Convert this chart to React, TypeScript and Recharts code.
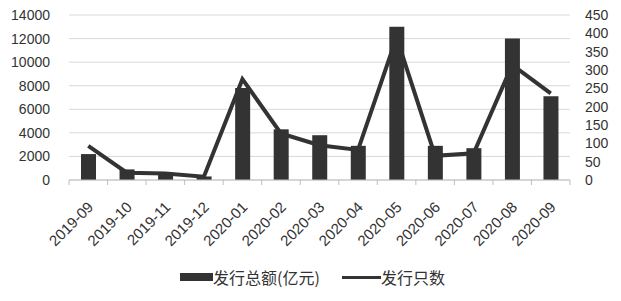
import { ComposedChart, Bar, Line, XAxis, YAxis, CartesianGrid, Legend } from 'recharts'

const months = [
    '2019-09', '2019-10', '2019-11', '2019-12', '2020-01', '2020-02', '2020-03',
    '2020-04', '2020-05', '2020-06', '2020-07', '2020-08', '2020-09',
]
// 发行总额(亿元)
const amounts = [2200, 900, 500, 300, 7800, 4300, 3800, 2900, 13000, 2900, 2700, 12000, 7100]
// 发行只数
const counts = [93, 20, 18, 9, 275, 127, 95, 82, 389, 66, 73, 314, 236]

const leftTicks = [0, 2000, 4000, 6000, 8000, 10000, 12000, 14000]
const rightTicks = [0, 50, 100, 150, 200, 250, 300, 350, 400, 450]

const AMOUNT_NAME = '发行总额(亿元)'
const COUNT_NAME = '发行只数'

const data = months.map((m, i) => ({ month: m, amount: amounts[i], count: counts[i] }))

const DARK = '#333333'
const FONT = '"Liberation Sans", Arial, sans-serif'

function MonthTick(props: any) {
    const { x, y, payload, index, visibleTicksCount } = props
    const half = payload?.offset ?? 19.25
    const isLast = index === (visibleTicksCount ?? months.length) - 1
    const tx = x + 6
    const ty = y + 28
    return (
        <g>
            <line x1={x - half} x2={x - half} y1={y} y2={y + 5} stroke="#bfbfbf" />
            {isLast && <line x1={x + half} x2={x + half} y1={y} y2={y + 5} stroke="#bfbfbf" />}
            <text
                x={tx}
                y={ty}
                transform={`rotate(-45, ${tx}, ${ty})`}
                textAnchor="end"
                fill={DARK}
                fontSize={15}
                fontFamily={FONT}
            >
                {payload.value}
            </text>
        </g>
    )
}

function LegendBox() {
    const textStyle = { fontSize: 16, color: DARK, fontFamily: '"Noto Sans CJK SC", sans-serif' }
    return (
        <div style={{ display: 'flex', justifyContent: 'center', alignItems: 'center', paddingLeft: 4 }}>
            <span style={{ display: 'inline-block', width: 33, height: 8, background: DARK }} />
            <span style={textStyle}>{AMOUNT_NAME}</span>
            <span style={{ display: 'inline-block', width: 39, height: 3, background: DARK, marginLeft: 22 }} />
            <span style={textStyle}>{COUNT_NAME}</span>
        </div>
    )
}

export default function App() {
    return (
        <div style={{ position: 'absolute', left: 0, top: 0, background: '#fff' }}>
            <ComposedChart
                width={621}
                height={301}
                data={data}
                margin={{ top: 15, right: 0, bottom: 6, left: 0 }}
            >
                <CartesianGrid yAxisId="left" vertical={false} stroke="#d9d9d9" />
                <XAxis
                    dataKey="month"
                    height={85}
                    interval={0}
                    tickLine={false}
                    axisLine={{ stroke: '#bfbfbf' }}
                    tickSize={0}
                    tickMargin={0}
                    tick={<MonthTick />}
                />
                <YAxis
                    yAxisId="left"
                    width={69}
                    domain={[0, 14000]}
                    ticks={leftTicks}
                    interval={0}
                    axisLine={false}
                    tickLine={false}
                    tickSize={0}
                    tickMargin={19}
                    tick={{ fontSize: 14, fill: DARK, fontFamily: FONT }}
                />
                <YAxis
                    yAxisId="right"
                    orientation="right"
                    width={51}
                    domain={[0, 450]}
                    ticks={rightTicks}
                    interval={0}
                    axisLine={false}
                    tickLine={false}
                    tickSize={0}
                    tickMargin={15}
                    tick={{ fontSize: 14, fill: DARK, fontFamily: FONT, textAnchor: 'start' }}
                />
                <Legend verticalAlign="bottom" height={30} content={() => <LegendBox />} />
                <Bar
                    yAxisId="left"
                    dataKey="amount"
                    name={AMOUNT_NAME}
                    fill={DARK}
                    barSize={15}
                    isAnimationActive={false}
                />
                <Line
                    yAxisId="right"
                    dataKey="count"
                    name={COUNT_NAME}
                    type="linear"
                    stroke={DARK}
                    strokeWidth={4}
                    dot={false}
                    activeDot={false}
                    isAnimationActive={false}
                />
            </ComposedChart>
        </div>
    )
}
